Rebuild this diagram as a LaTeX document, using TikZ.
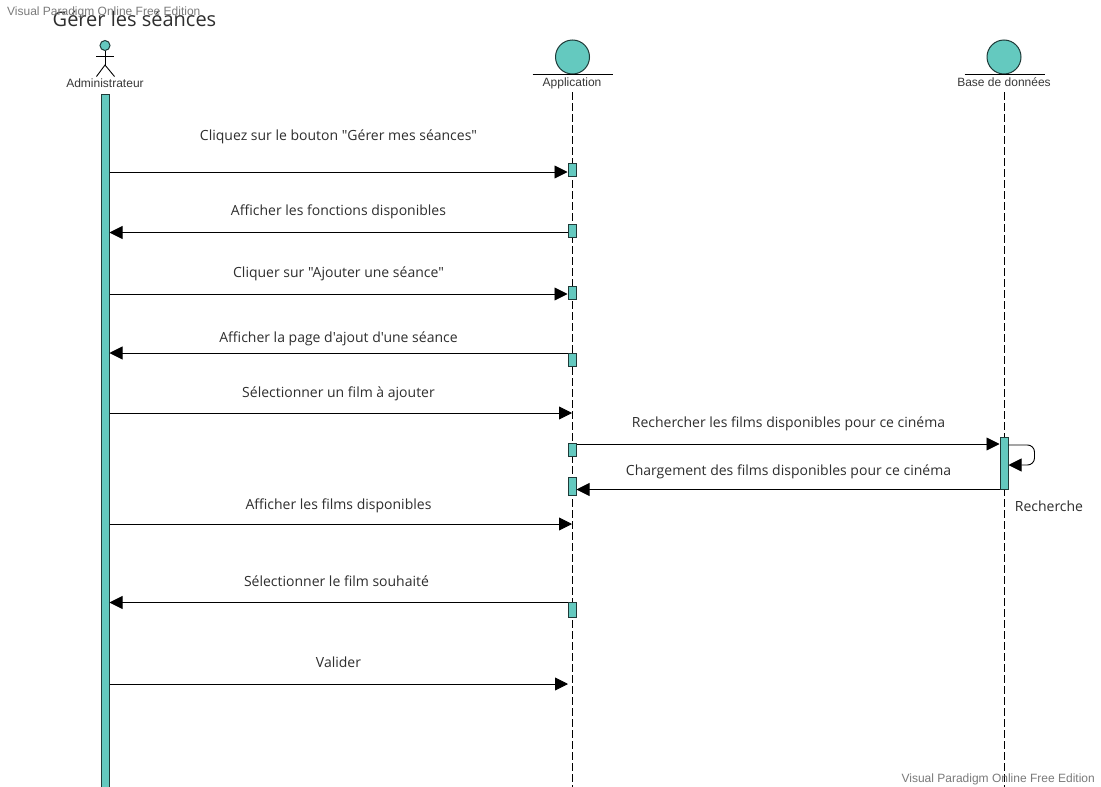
\documentclass[tikz,border=0pt]{standalone}
\usepackage{fontspec}
\setmainfont{Open Sans}
\newfontfamily\opensansplain{Open Sans}
\newfontfamily\arialfont{Liberation Sans}
\usetikzlibrary{arrows.meta}
\definecolor{teal1}{HTML}{64C9BF}
\definecolor{edge1}{HTML}{1F3A38}
\tikzset{
  x=1pt,y=-1pt,
  msg/.style={draw=black,line width=0.9pt,-{Triangle[length=13pt,width=13pt]},shorten >=0pt},
  life/.style={draw=black,line width=0.9pt,dash pattern=on 8pt off 3pt},
  act/.style={draw=edge1,fill=teal1,line width=1pt,inner sep=0pt,minimum width=8pt,rectangle},
  lbl/.style={font=\opensansplain\fontsize{14}{16}\selectfont,text=black!82,inner sep=0pt,anchor=base},
  head/.style={font=\arialfont\fontsize{12}{14}\selectfont,text=black!78,inner sep=0pt,anchor=base},
  wm/.style={font=\arialfont\fontsize{12}{14}\selectfont,text=black!52,inner sep=0pt,anchor=base},
  ball/.style={circle,draw=edge1,fill=teal1,line width=1pt,minimum size=34pt,inner sep=0pt},
  limb/.style={draw=black,line width=0.9pt},
}
\newcommand{\actbox}[4]{\node[act,minimum height=#4pt-#3pt] (#1) at (#2,{(#3+#4)/2}) {};}
\begin{document}
\begin{tikzpicture}
\useasboundingbox (0,0) rectangle (1101,787);
\fill[white] (0,0) rectangle (1101,787);
% lifelines
\coordinate (appTop) at (572,92);
\coordinate (appEnd) at (572,787);
\coordinate (dbTop) at (1004,92);
\coordinate (dbEnd) at (1004,787);
\draw[life] (appTop) -- (appEnd);
\draw[life] (dbTop) -- (dbEnd);
% titles
\node[font=\opensansplain\fontsize{20}{24}\selectfont,text=black!82,inner sep=0pt,anchor=base west] (title) at (52.5,26) {Gérer les séances};
\node[wm,anchor=base west] (wmA) at (7,16) {Visual Paradigm Online Free Edition};
\node[wm,anchor=base east] (wmB) at (1095,782) {Visual Paradigm Online Free Edition};
% actor
\node[circle,draw=edge1,fill=teal1,line width=1pt,minimum size=10pt,inner sep=0pt] (actorHead) at (105,45.5) {};
\coordinate (hip) at (105,65);
\coordinate (armL) at (96,56.5);
\coordinate (armR) at (114,56.5);
\coordinate (footL) at (96.5,76.5);
\coordinate (footR) at (114.5,76.5);
\draw[limb] (actorHead.south) -- (hip);
\draw[limb] (armL) -- (armR);
\draw[limb] (footL) -- (hip) -- (footR);
\node[head] (actorLbl) at (105,87) {Administrateur};
% entities
\node[ball] (appBall) at (572.5,57) {};
\coordinate (appL) at (532.5,74.5);
\coordinate (appR) at (612.5,74.5);
\draw[limb] (appL) -- (appR);
\node[head] (appLbl) at (572,86) {Application};
\node[ball] (dbBall) at (1004,57) {};
\coordinate (dbL) at (964.5,74.5);
\coordinate (dbR) at (1044.5,74.5);
\draw[limb] (dbL) -- (dbR);
\node[head] (dbLbl) at (1004,86) {Base de données};
% activations
\actbox{bar}{105}{94}{787}
\actbox{a1}{572}{163}{176}
\actbox{a2}{572}{224}{237}
\actbox{a3}{572}{286}{299}
\actbox{a4}{572}{353}{366}
\actbox{a5}{572}{443}{456}
\actbox{a6}{572}{477}{495}
\actbox{a7}{572}{602}{617}
\actbox{d1}{1004}{437.5}{489}
% messages
\coordinate (validerEnd) at (568,684);
\draw[msg] (bar.east |- 0,172) -- (a1.west |- 0,172);
\draw[msg] (a2.west |- 0,232.5) -- (bar.east |- 0,232.5);
\draw[msg] (bar.east |- 0,294) -- (a3.west |- 0,294);
\draw[msg] (a4.west |- 0,353) -- (bar.east |- 0,353);
\draw[msg] (bar.east |- 0,413) -- (appTop |- 0,413);
\draw[msg] (a5.east |- 0,444) -- (d1.west |- 0,444);
\draw[msg] (d1.west |- 0,489.5) -- (a6.east |- 0,489.5);
\draw[msg] (bar.east |- 0,524) -- (appTop |- 0,524);
\draw[msg] (a7.west |- 0,602.5) -- (bar.east |- 0,602.5);
\draw[msg] (bar.east |- validerEnd) -- (validerEnd);
% self message
\draw[msg,rounded corners=7pt] (d1.east |- 0,445) -- (1034.5,445) -- (1034.5,465) -- (d1.east |- 0,465);
% labels
\node[lbl] (t1) at (338.5,140) {Cliquez sur le bouton "Gérer mes séances"};
\node[lbl] (t2) at (338.5,215) {Afficher les fonctions disponibles};
\node[lbl] (t3) at (338.5,277) {Cliquer sur "Ajouter une séance"};
\node[lbl] (t4) at (338.5,342) {Afficher la page d'ajout d'une séance};
\node[lbl] (t5) at (338.5,397) {Sélectionner un film à ajouter};
\node[lbl] (t6) at (788.5,427) {Rechercher les films disponibles pour ce cinéma};
\node[lbl] (t7) at (788.5,475) {Chargement des films disponibles pour ce cinéma};
\node[lbl] (t8) at (338.5,509) {Afficher les films disponibles};
\node[lbl] (t9) at (336.5,586) {Sélectionner le film souhaité};
\node[lbl] (t10) at (338.5,667) {Valider};
\node[lbl] (t11) at (1049,511) {Recherche};
\end{tikzpicture}
\end{document}
